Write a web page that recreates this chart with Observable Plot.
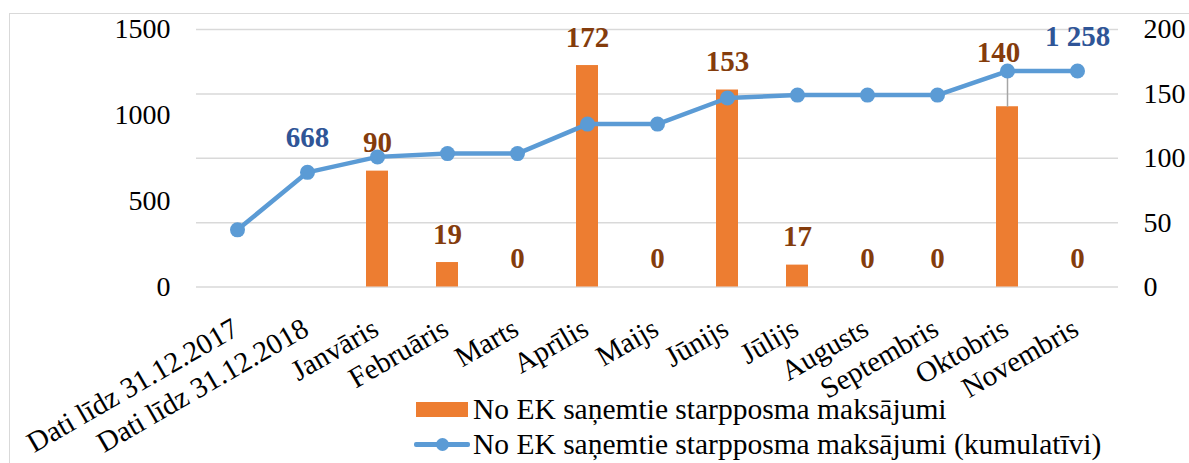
<!DOCTYPE html>
<html>
<head>
<meta charset="utf-8">
<script src="https://cdn.jsdelivr.net/npm/d3@7"></script>
<script src="https://cdn.jsdelivr.net/npm/@observablehq/plot@0.6"></script>
<style>
  html, body { margin: 0; padding: 0; background: #fff; overflow: hidden; }
  #wrap { position: relative; width: 1189px; height: 463px; font-family: "Liberation Serif", "Times New Roman", serif; }
  #border { position: absolute; left: 9px; top: 13px; width: 1200px; height: 470px; border: 1.5px solid #D9D9D9; box-sizing: border-box; }
  #wrap svg { position: absolute; left: 0; top: 0; }
  #legend { position: absolute; left: 414px; top: 392px; font-size: 29.5px; color: #000; line-height: 34px; }
  .li { display: flex; align-items: center; height: 34.5px; white-space: nowrap; }
  .sw { width: 56px; height: 34px; position: relative; margin-right: 3px; }
</style>
</head>
<body>
<div id="wrap">
  <div id="border"></div>
  <div id="legend">
    <div class="li"><div class="sw"><div style="position:absolute;left:2px;top:10px;width:52px;height:15px;background:#ED7D31"></div></div><span id="lg1"></span></div>
    <div class="li"><div class="sw"><div style="position:absolute;left:0;top:15px;width:56px;height:5px;background:#5B9BD5;border-radius:2px"></div><div style="position:absolute;left:22px;top:11px;width:13px;height:13px;border-radius:50%;background:#5B9BD5"></div></div><span id="lg2"></span></div>
  </div>
</div>
<script>
// ---- data ----
const categories = ["Dati līdz 31.12.2017", "Dati līdz 31.12.2018", "Janvāris", "Februāris", "Marts", "Aprīlis", "Maijs", "Jūnijs", "Jūlijs", "Augusts", "Septembris", "Oktobris", "Novembris"];
const monthlyPayments = [null, null, 90, 19, 0, 172, 0, 153, 17, 0, 0, 140, 0];
const cumulativePayments = [333, 668, 758, 777, 777, 949, 949, 1101, 1118, 1118, 1118, 1258, 1258];
const cumulativeLabelled = ["Dati līdz 31.12.2018", "Novembris"];
const leftTicks = [0, 500, 1000, 1500];
const rightTicks = [0, 50, 100, 150, 200];
const seriesNames = ["No EK saņemtie starpposma maksājumi", "No EK saņemtie starpposma maksājumi (kumulatīvi)"];

document.getElementById("lg1").textContent = seriesNames[0];
document.getElementById("lg2").textContent = seriesNames[1];

const bars = categories.map((c, i) => ({cat: c, v: monthlyPayments[i]})).filter(d => d.v !== null);
const line = categories.map((c, i) => ({cat: c, v: cumulativePayments[i]}));
const fmtSpace = v => d3.format(",")(v).replace(/,/g, " ");

const W = 1189, H = 463;
const FS = 29;
const common = {
  width: W, height: H,
  marginLeft: 196, marginRight: 71, marginTop: 29, marginBottom: 176.5,
  style: {fontFamily: "'Liberation Serif', 'Times New Roman', serif", fontSize: "28px", background: "transparent", overflow: "visible"},
};
const xOpts = {domain: categories, type: "band", paddingInner: 0.69, paddingOuter: 0.345, axis: null};

// Plot A: bars on right axis (0–200), gridlines, x labels
const plotA = Plot.plot({
  ...common,
  x: xOpts,
  y: {domain: [0, 200], axis: null},
  marks: [
    Plot.gridY(rightTicks, {stroke: "#D9D9D9", strokeOpacity: 1, strokeWidth: 1.5}),
    Plot.axisY({anchor: "right", ticks: rightTicks, tickSize: 0, tickPadding: 25, fill: "#000", fontSize: 28, textAnchor: "start", label: null, tickFormat: d => String(d)}),
    Plot.barY(bars, {x: "cat", y: "v", fill: "#ED7D31"}),
    Plot.text(bars.filter(d => d.cat !== "Oktobris"), {x: "cat", y: "v", text: d => String(d.v), lineAnchor: "bottom", dy: -19, fill: "#843C0C", fontWeight: "bold", fontSize: FS}),
    Plot.link(bars.filter(d => d.cat === "Oktobris"), {x1: "cat", x2: "cat", y1: "v", y2: d => d.v + 27, stroke: "#A5A5A5", strokeWidth: 1.5}),
    Plot.text(bars.filter(d => d.cat === "Oktobris"), {x: "cat", y: "v", text: d => String(d.v), lineAnchor: "bottom", dx: -9, dy: -45, fill: "#843C0C", fontWeight: "bold", fontSize: FS}),
    Plot.text(categories, {x: d => d, frameAnchor: "bottom", text: d => d, rotate: -30, textAnchor: "end", lineAnchor: "bottom", dx: 3, dy: 47, fill: "#000", fontSize: FS})
  ]
});

// Plot B: cumulative line on left axis (0–1500)
const plotB = Plot.plot({
  ...common,
  x: xOpts,
  y: {domain: [0, 1500], axis: null},
  marks: [
    Plot.axisY({anchor: "left", ticks: leftTicks, tickSize: 0, tickPadding: 26, fill: "#000", fontSize: 28, label: null, tickFormat: d => String(d)}),
    Plot.line(line, {x: "cat", y: "v", stroke: "#5B9BD5", strokeWidth: 4.5}),
    Plot.dot(line, {x: "cat", y: "v", r: 7.5, fill: "#5B9BD5"}),
    Plot.text(line.filter(d => cumulativeLabelled.includes(d.cat)), {x: "cat", y: "v", text: d => fmtSpace(d.v), lineAnchor: "bottom", dy: -25, fill: "#2F5597", fontWeight: "bold", fontSize: FS})
  ]
});

const wrap = document.getElementById("wrap");
wrap.insertBefore(plotA, document.getElementById("legend"));
wrap.insertBefore(plotB, document.getElementById("legend"));
</script>
</body>
</html>
